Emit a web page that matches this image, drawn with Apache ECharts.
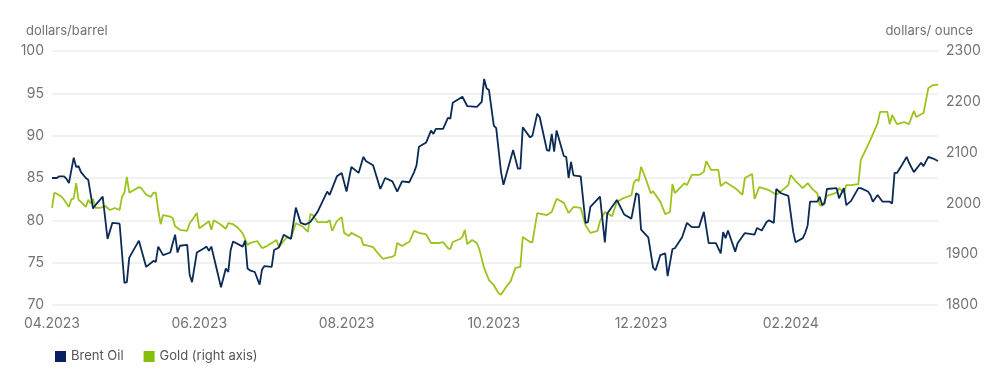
<!DOCTYPE html>
<html><head><meta charset="utf-8">
<script src="https://cdn.jsdelivr.net/npm/echarts@6/dist/echarts.min.js"></script>
<style>html,body{margin:0;padding:0;background:#fff}#c{width:1000px;height:389px}</style>
</head><body><div id="c"></div>
<script>
const startDate = '2023-04-01';
const endDate = '2024-04-02';
const xTickLabels = ['04.2023','06.2023','08.2023','10.2023','12.2023','02.2024'];
const leftAxisTitle = 'dollars/barrel';
const rightAxisTitle = 'dollars/ ounce';
const seriesNames = ['Brent Oil', 'Gold (right axis)'];

const brentDates = ['2023-04-01','2023-04-03','2023-04-04','2023-04-06','2023-04-07','2023-04-08','2023-04-10','2023-04-11','2023-04-12','2023-04-13','2023-04-15','2023-04-16','2023-04-18','2023-04-19','2023-04-22','2023-04-24','2023-04-26','2023-04-29',
'2023-05-01','2023-05-02','2023-05-03','2023-05-07','2023-05-10','2023-05-13','2023-05-14','2023-05-15','2023-05-17','2023-05-20','2023-05-21','2023-05-22','2023-05-23','2023-05-24','2023-05-27','2023-05-28','2023-05-29','2023-05-31',
'2023-06-03','2023-06-04','2023-06-05','2023-06-06','2023-06-10','2023-06-12','2023-06-13','2023-06-14','2023-06-15','2023-06-19','2023-06-20','2023-06-21','2023-06-22','2023-06-24','2023-06-26','2023-06-27','2023-06-28',
'2023-07-01','2023-07-02','2023-07-04','2023-07-06','2023-07-09','2023-07-11','2023-07-13','2023-07-15','2023-07-17','2023-07-20','2023-07-24','2023-07-25','2023-07-28','2023-07-30',
'2023-08-01','2023-08-03','2023-08-06','2023-08-08','2023-08-09','2023-08-12','2023-08-15','2023-08-17','2023-08-20','2023-08-22','2023-08-24','2023-08-27','2023-08-29','2023-08-30','2023-08-31',
'2023-09-03','2023-09-05','2023-09-06','2023-09-07','2023-09-10','2023-09-12','2023-09-13','2023-09-14','2023-09-18','2023-09-20','2023-09-24','2023-09-26','2023-09-27','2023-09-28','2023-09-29',
'2023-10-01','2023-10-02','2023-10-04','2023-10-05','2023-10-09','2023-10-11','2023-10-12','2023-10-13','2023-10-16','2023-10-17','2023-10-19','2023-10-20','2023-10-23','2023-10-24','2023-10-25','2023-10-26','2023-10-27','2023-10-30','2023-10-31',
'2023-11-01','2023-11-02','2023-11-03','2023-11-06','2023-11-08','2023-11-09','2023-11-10','2023-11-14','2023-11-16','2023-11-17','2023-11-21','2023-11-24','2023-11-27','2023-11-29','2023-11-30',
'2023-12-01','2023-12-04','2023-12-06','2023-12-07','2023-12-09','2023-12-11','2023-12-12','2023-12-14','2023-12-15','2023-12-18','2023-12-20','2023-12-22','2023-12-25','2023-12-27','2023-12-29',
'2024-01-01','2024-01-03','2024-01-04','2024-01-05','2024-01-06','2024-01-09','2024-01-10','2024-01-13','2024-01-17','2024-01-18','2024-01-20','2024-01-22','2024-01-23','2024-01-25','2024-01-26','2024-01-28','2024-01-31',
'2024-02-02','2024-02-03','2024-02-06','2024-02-07','2024-02-08','2024-02-09','2024-02-12','2024-02-13','2024-02-14','2024-02-15','2024-02-16','2024-02-20','2024-02-21','2024-02-23','2024-02-24','2024-02-26','2024-02-29',
'2024-03-01','2024-03-04','2024-03-05','2024-03-06','2024-03-08','2024-03-10','2024-03-13','2024-03-14','2024-03-15','2024-03-16','2024-03-18','2024-03-20','2024-03-21','2024-03-23','2024-03-26','2024-03-27','2024-03-29','2024-03-31','2024-04-02'];
const brentValues = [85.0,85.0,85.2,85.2,84.9,84.4,87.4,86.3,86.4,85.7,85.0,84.8,81.4,81.8,82.8,77.8,79.7,79.6,
72.6,72.7,75.6,77.6,74.5,75.2,75.1,76.9,75.9,76.2,77.3,78.3,76.2,77.0,77.1,73.6,72.7,76.2,
76.7,76.9,76.4,76.9,72.1,74.3,73.9,76.5,77.5,76.9,77.6,74.3,74.1,73.9,72.4,74.2,74.6,
74.5,76.5,76.8,78.3,77.8,81.5,79.7,79.5,79.8,81.0,83.4,83.0,85.2,85.6,
83.4,86.3,85.6,87.5,87.0,86.5,83.7,85.0,84.6,83.4,84.6,84.5,85.7,86.5,88.7,
89.2,90.6,90.2,90.8,90.8,92.1,92.0,93.9,94.6,93.5,93.4,94.0,96.7,95.6,95.4,
91.2,90.9,85.7,84.2,88.3,86.1,86.1,91.0,89.8,90.0,92.6,92.2,88.3,88.2,90.2,88.1,90.6,87.6,87.5,
85.0,86.9,85.3,85.2,79.7,79.8,81.6,82.8,77.4,80.8,82.4,80.7,80.2,83.2,83.0,
78.9,78.0,74.4,74.1,75.9,76.1,73.4,76.6,76.7,78.0,79.7,79.2,79.2,81.0,77.3,
77.3,76.1,78.6,77.9,78.8,76.3,77.3,78.5,78.3,79.1,78.8,79.8,80.0,79.7,83.7,83.2,82.9,
78.7,77.4,77.9,78.5,79.4,82.2,82.2,82.8,81.8,82.0,83.7,83.8,82.6,83.8,81.8,82.3,83.8,
83.8,83.4,83.0,82.2,83.0,82.2,82.2,82.0,85.6,85.6,86.5,87.5,86.8,85.7,86.8,86.4,87.5,87.3,87.0];

const goldDates = ['2023-04-01','2023-04-02','2023-04-03','2023-04-05','2023-04-06','2023-04-08','2023-04-09','2023-04-10','2023-04-11','2023-04-12','2023-04-13','2023-04-15','2023-04-16','2023-04-17','2023-04-18','2023-04-19','2023-04-21','2023-04-23','2023-04-25','2023-04-27','2023-04-28','2023-04-29','2023-04-30',
'2023-05-01','2023-05-02','2023-05-03','2023-05-07','2023-05-08','2023-05-10','2023-05-12','2023-05-13','2023-05-14','2023-05-15','2023-05-16','2023-05-17','2023-05-20','2023-05-21','2023-05-22','2023-05-24','2023-05-27','2023-05-28','2023-05-29','2023-05-31',
'2023-06-01','2023-06-02','2023-06-05','2023-06-06','2023-06-07','2023-06-10','2023-06-11','2023-06-12','2023-06-13','2023-06-15','2023-06-17','2023-06-19','2023-06-21','2023-06-22','2023-06-25','2023-06-27','2023-06-29',
'2023-07-03','2023-07-04','2023-07-06','2023-07-07','2023-07-09','2023-07-11','2023-07-14','2023-07-16','2023-07-17','2023-07-18','2023-07-20','2023-07-24','2023-07-25','2023-07-26','2023-07-28','2023-07-30','2023-07-31',
'2023-08-02','2023-08-03','2023-08-07','2023-08-08','2023-08-09','2023-08-12','2023-08-14','2023-08-16','2023-08-20','2023-08-21','2023-08-22','2023-08-24','2023-08-26','2023-08-27','2023-08-29','2023-08-31',
'2023-09-03','2023-09-05','2023-09-08','2023-09-10','2023-09-12','2023-09-13','2023-09-14','2023-09-17','2023-09-18','2023-09-19','2023-09-20','2023-09-22','2023-09-24','2023-09-25','2023-09-27','2023-09-29',
'2023-10-01','2023-10-03','2023-10-04','2023-10-06','2023-10-08','2023-10-10','2023-10-12','2023-10-13','2023-10-16','2023-10-17','2023-10-19','2023-10-23','2023-10-25','2023-10-27','2023-10-30',
'2023-11-01','2023-11-03','2023-11-06','2023-11-08','2023-11-10','2023-11-13','2023-11-14','2023-11-16','2023-11-19','2023-11-21','2023-11-24','2023-11-27','2023-11-28','2023-11-29','2023-11-30',
'2023-12-01','2023-12-03','2023-12-05','2023-12-06','2023-12-09','2023-12-11','2023-12-13','2023-12-14','2023-12-15','2023-12-19','2023-12-20','2023-12-22','2023-12-25','2023-12-27','2023-12-28','2023-12-30',
'2024-01-02','2024-01-03','2024-01-05','2024-01-09','2024-01-12','2024-01-13','2024-01-16','2024-01-17','2024-01-19','2024-01-23','2024-01-26','2024-01-28','2024-01-31',
'2024-02-01','2024-02-03','2024-02-06','2024-02-08','2024-02-10','2024-02-12','2024-02-13','2024-02-14','2024-02-16','2024-02-20','2024-02-21','2024-02-23','2024-02-24','2024-02-26','2024-02-29',
'2024-03-01','2024-03-05','2024-03-08','2024-03-09','2024-03-12','2024-03-13','2024-03-14','2024-03-16','2024-03-19','2024-03-21','2024-03-23','2024-03-24','2024-03-27','2024-03-29','2024-03-31','2024-04-02'];
const goldValues = [1991,2021,2019,2013,2007,1993,2008,2010,2040,2007,2003,1993,2007,2000,2009,1991,1991,1995,1987,1991,1989,1987,2013,
2021,2052,2021,2032,2030,2017,2013,2021,2021,1987,1959,1977,1974,1971,1955,1948,1946,1961,1967,1981,
1951,1954,1965,1948,1967,1958,1954,1950,1961,1959,1952,1941,1918,1922,1926,1912,1916,
1928,1914,1926,1932,1932,1961,1954,1944,1979,1977,1963,1963,1967,1946,1965,1973,1942,
1936,1942,1932,1918,1918,1914,1902,1891,1895,1898,1922,1916,1922,1924,1946,1942,
1939,1922,1922,1924,1912,1910,1924,1930,1934,1948,1920,1928,1922,1910,1873,1849,
1839,1823,1820,1835,1847,1873,1875,1934,1924,1924,1981,1977,1983,2009,2001,
1981,1993,1991,1957,1942,1946,1965,1983,1975,2003,2011,2016,2040,2047,2044,
2072,2048,2020,2024,2003,1979,1983,2038,2020,2040,2036,2056,2056,2062,2083,2066,
2066,2034,2042,2030,2017,2050,2058,2009,2032,2026,2017,2024,2036,
2056,2044,2030,2040,2028,2020,1997,1995,2015,2021,2030,2021,2036,2036,2038,
2085,2125,2158,2180,2180,2156,2174,2156,2160,2156,2182,2170,2178,2227,2233,2234];

// daily category axis
const days = [];
for (let t = Date.parse(startDate + 'T00:00:00Z'); t <= Date.parse(endDate + 'T00:00:00Z'); t += 86400000) {
  days.push(new Date(t).toISOString().slice(0, 10));
}
const dayIndex = {};
days.forEach((d, i) => { dayIndex[d] = i; });
const fmtMonth = d => d.slice(5, 7) + '.' + d.slice(0, 4);

const brentData = brentDates.map((d, i) => [dayIndex[d], brentValues[i]]);
const goldData = goldDates.map((d, i) => [dayIndex[d], goldValues[i]]);

const FONT = 'Inter, "Noto Sans", sans-serif';
const LABEL = '#737373';
const BRENT = '#0b2a55';
const GOLD = '#9cc41f';

const chart = echarts.init(document.getElementById('c'), null, { renderer: 'canvas' });
chart.setOption({
  animation: false,
  backgroundColor: '#ffffff',
  textStyle: { fontFamily: FONT },
  title: [
    { text: leftAxisTitle, left: 21, top: 20, textStyle: { fontSize: 13, fontWeight: 'normal', color: LABEL, fontFamily: FONT } },
    { text: rightAxisTitle, right: 22, top: 20, textStyle: { fontSize: 13, fontWeight: 'normal', color: LABEL, fontFamily: FONT } }
  ],
  grid: { left: 52, right: 62, top: 51, bottom: 84, containLabel: false },
  legend: {
    left: 50, top: 345, icon: 'rect', itemWidth: 11, itemHeight: 11, itemGap: 20,
    textStyle: { fontSize: 13, color: '#555', fontFamily: FONT },
    data: [{ name: seriesNames[0], itemStyle: { color: '#0a1f5e' } }, { name: seriesNames[1], itemStyle: { color: '#84c00a' } }]
  },
  xAxis: {
    type: 'category', data: days, boundaryGap: false,
    axisLine: { show: false }, axisTick: { show: false },
    axisLabel: {
      color: LABEL, fontSize: 14, margin: 12, fontFamily: FONT,
      interval: (i, v) => v.slice(8) === '01' && xTickLabels.includes(fmtMonth(v)),
      formatter: v => fmtMonth(v)
    },
    splitLine: { show: false }
  },
  yAxis: [
    {
      type: 'value', min: 70, max: 100, interval: 5, position: 'left',
      axisLine: { show: false }, axisTick: { show: false },
      axisLabel: { color: LABEL, fontSize: 14, margin: 8, fontFamily: FONT, formatter: v => String(v) },
      splitLine: { lineStyle: { color: '#ececec', width: 1.5 } }
    },
    {
      type: 'value', min: 1800, max: 2300, interval: 100, position: 'right',
      axisLine: { show: false }, axisTick: { show: false },
      axisLabel: { color: LABEL, fontSize: 14, margin: 8, fontFamily: FONT, formatter: v => String(v) },
      splitLine: { show: false }
    }
  ],
  series: [
    { name: seriesNames[0], type: 'line', yAxisIndex: 0, data: brentData, showSymbol: false, symbol: 'none',
      lineStyle: { color: BRENT, width: 1.8 }, itemStyle: { color: BRENT }, z: 3 },
    { name: seriesNames[1], type: 'line', yAxisIndex: 1, data: goldData, showSymbol: false, symbol: 'none',
      lineStyle: { color: GOLD, width: 1.8 }, itemStyle: { color: GOLD }, z: 2 }
  ]
});
</script></body></html>
